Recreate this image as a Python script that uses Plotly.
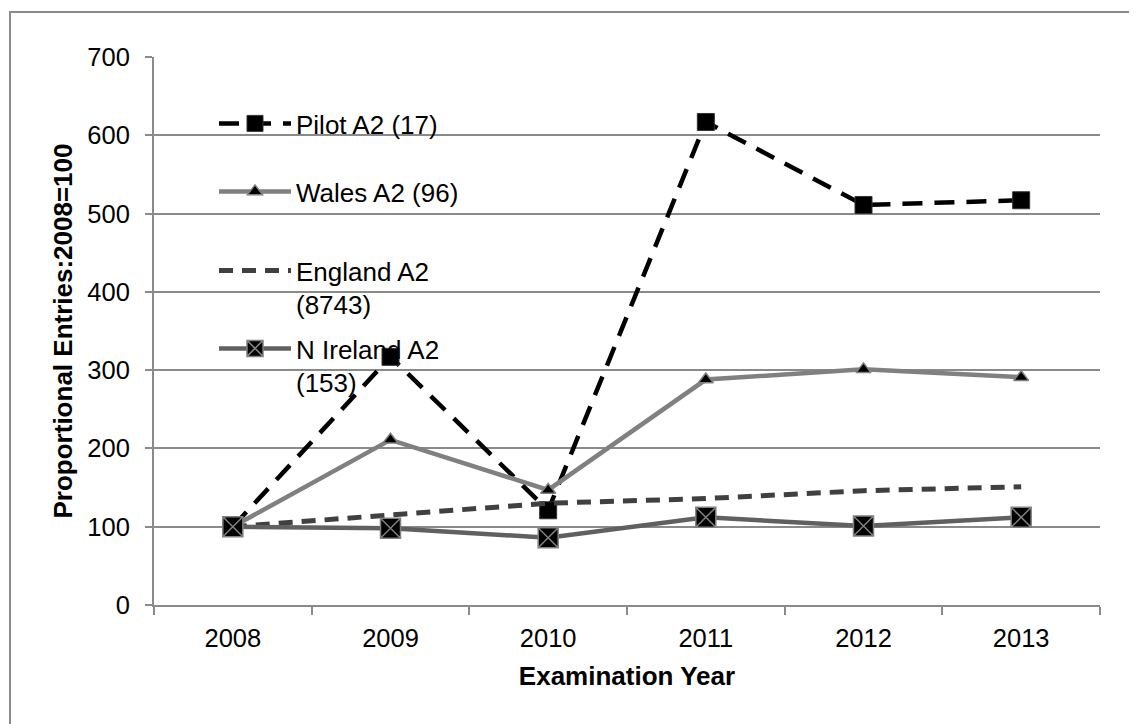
import plotly.graph_objects as go

years = ["2008", "2009", "2010", "2011", "2012", "2013"]
pilot = [100, 317, 121, 617, 511, 517]
wales = [100, 211, 147, 288, 301, 291]
england = [100, 115, 130, 136, 146, 151]
n_ireland = [100, 98, 86, 112, 101, 112]

names = ["Pilot A2 (17)", "Wales A2 (96)", "England A2<br>(8743)", "N Ireland A2<br>(153)"]
y_ticks = [0, 100, 200, 300, 400, 500, 600, 700]

FONT = "Liberation Sans, Arial, Helvetica, sans-serif"
GRID = "#8a8a8a"

fig = go.Figure()
fig.add_trace(go.Scatter(
    x=years, y=pilot, name=names[0], mode="lines+markers", legend="legend",
    line=dict(color="#000000", width=4.5, dash="20px,12px"),
    marker=dict(symbol="square", size=17, color="#000000",
                line=dict(color="#333333", width=1)),
))
fig.add_trace(go.Scatter(
    x=years, y=wales, name=names[1], mode="lines+markers", legend="legend2",
    line=dict(color="#808080", width=4.5),
    marker=dict(symbol="triangle-up", size=13, color="#000000",
                line=dict(color="#808080", width=1.5)),
))
fig.add_trace(go.Scatter(
    x=years, y=england, name=names[2], mode="lines", legend="legend3",
    line=dict(color="#404040", width=5, dash="14px,9px"),
))
fig.add_trace(go.Scatter(
    x=years, y=n_ireland, name=names[3], mode="lines+markers", legend="legend4",
    line=dict(color="#606060", width=4.5),
    marker=dict(symbol="square-x", size=20, color="#000000",
                line=dict(color="#808080", width=1.5)),
))

# the page body adds an 8px offset, so figure coords = screen coords - 8
W, H = 1129, 716
L, R, T, B = 146, 37, 49, 119
pw, ph = W - L - R, H - T - B


def px_x(v):
    return (v - L) / pw


def px_y(v):
    return (T + ph - v) / ph


# outer chart-area border (extends past right and bottom edges)
fig.add_shape(type="rect", xref="paper", yref="paper",
              x0=px_x(2), x1=px_x(W + 20),
              y0=px_y(H + 20), y1=px_y(4),
              line=dict(color="#8c8c8c", width=2), fillcolor="rgba(0,0,0,0)",
              layer="below")


def legend_at(top):
    return dict(
        x=px_x(206), y=px_y(top), xanchor="left", yanchor="top",
        bgcolor="rgba(0,0,0,0)", borderwidth=0,
        font=dict(family=FONT, size=26, color="#000000"),
        itemwidth=72, valign="top",
    )


fig.update_layout(
    width=W, height=H,
    margin=dict(l=L, r=R, t=T, b=B),
    paper_bgcolor="white", plot_bgcolor="white",
    font=dict(family=FONT, size=25.5, color="#000000"),
    showlegend=True,
    legend=legend_at(92),
    legend2=legend_at(160),
    legend3=legend_at(239),
    legend4=legend_at(317),
    xaxis=dict(
        type="category", range=[-0.5, 5.5],
        showline=True, linecolor=GRID, linewidth=2,
        ticks="outside", tickson="boundaries", ticklen=8, tickcolor=GRID, tickwidth=2,
        showgrid=False, zeroline=False, ticklabelstandoff=9,
        tickfont=dict(family=FONT, size=25.5, color="#000000"),
        title=dict(text="<b>Examination Year</b>", font=dict(family=FONT, size=26, color="#000000"), standoff=16),
    ),
    yaxis=dict(
        range=[0, 700], tickvals=y_ticks,
        showline=True, linecolor=GRID, linewidth=2,
        ticks="outside", ticklen=7, tickcolor=GRID, tickwidth=2,
        showgrid=True, gridcolor=GRID, gridwidth=2, zeroline=False,
        ticklabelstandoff=10,
        tickfont=dict(family=FONT, size=25.5, color="#000000"),
        title=dict(text="<b>Proportional Entries:2008=100</b>", font=dict(family=FONT, size=26, color="#000000"), standoff=7),
    ),
)

fig.write_html("out.html")
